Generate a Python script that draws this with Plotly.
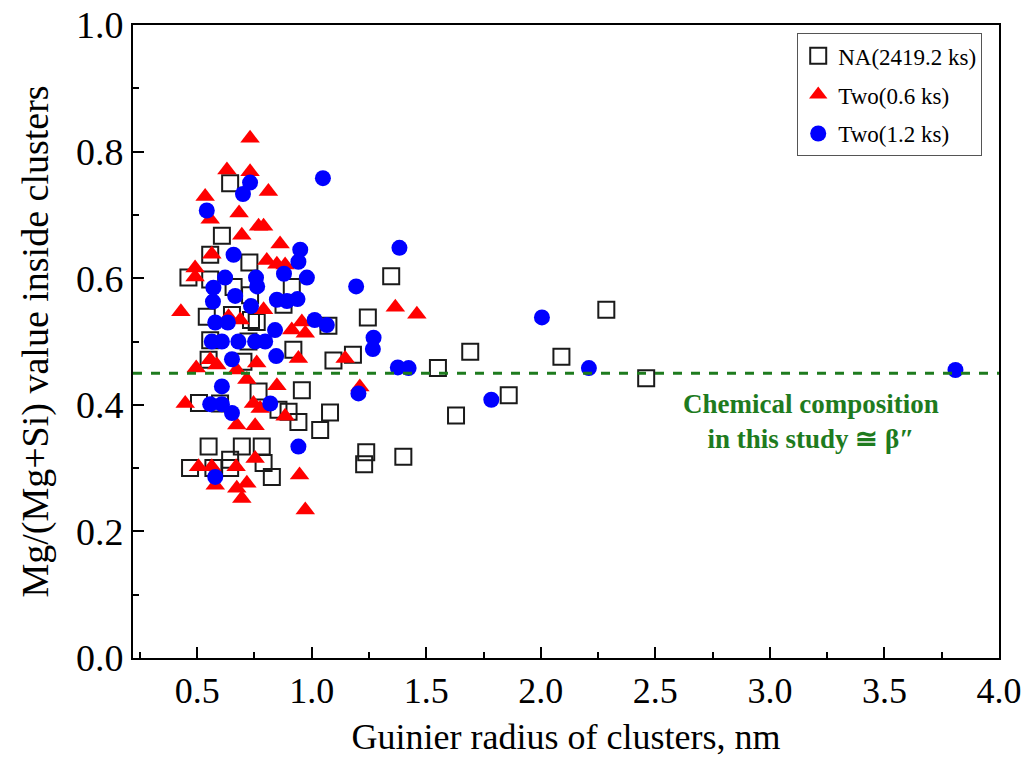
import plotly.graph_objects as go

# ---- data ----
na_x = [0.644, 0.608, 0.557, 0.728, 0.462, 0.557, 0.659, 0.913, 0.731, 0.877,
        0.542, 0.652, 0.735, 0.760, 1.073, 0.557, 0.724, 0.920, 1.095, 0.550,
        0.702, 0.957, 0.768, 1.080, 0.508, 0.600, 0.855, 0.899, 0.942, 1.037,
        0.550, 0.695, 0.782, 0.644, 0.790, 0.469, 0.571, 0.644, 0.826, 1.180,
        1.245, 1.347, 1.551, 1.692, 2.090, 2.286, 2.460, 1.860, 1.630, 1.238,
        1.229, 1.400]
na_y = [0.750, 0.667, 0.637, 0.625, 0.601, 0.598, 0.586, 0.586, 0.573, 0.558,
        0.539, 0.542, 0.534, 0.531, 0.525, 0.502, 0.500, 0.487, 0.470, 0.471,
        0.468, 0.423, 0.421, 0.388, 0.403, 0.402, 0.392, 0.389, 0.373, 0.360,
        0.334, 0.334, 0.334, 0.313, 0.308, 0.300, 0.300, 0.300, 0.286, 0.479,
        0.538, 0.603, 0.458, 0.484, 0.476, 0.550, 0.442, 0.415, 0.383, 0.325,
        0.306, 0.318]

two06_x = [0.731, 0.630, 0.731, 0.811, 0.535, 0.557, 0.683, 0.695, 0.768, 0.790,
           0.862, 0.564, 0.804, 0.848, 0.884, 0.491, 0.491, 0.429, 0.637, 0.688,
           0.790, 0.913, 0.957, 0.972, 0.942, 1.146, 0.557, 0.586, 0.760, 0.496,
           0.673, 0.717, 0.848, 0.448, 0.746, 0.775, 0.884, 0.673, 0.753, 0.753,
           0.506, 0.564, 0.670, 0.579, 0.717, 0.673, 0.695, 0.947, 0.972, 1.365,
           1.459, 1.210]
two06_y = [0.821, 0.771, 0.768, 0.737, 0.729, 0.693, 0.703, 0.668, 0.682, 0.682,
           0.654, 0.638, 0.628, 0.622, 0.621, 0.616, 0.602, 0.547, 0.539, 0.534,
           0.550, 0.518, 0.531, 0.513, 0.473, 0.473, 0.471, 0.463, 0.466, 0.458,
           0.455, 0.440, 0.430, 0.402, 0.402, 0.394, 0.382, 0.368, 0.367, 0.315,
           0.302, 0.302, 0.302, 0.273, 0.276, 0.268, 0.252, 0.289, 0.234, 0.554,
           0.543, 0.428]

two12_x = [1.049, 0.731, 0.700, 0.542, 0.950, 0.942, 0.659, 0.622, 0.757, 0.879,
           0.979, 0.571, 0.762, 0.666, 0.569, 0.735, 0.848, 0.892, 0.938, 0.579,
           0.634, 0.840, 1.013, 1.066, 0.564, 0.608, 0.680, 0.753, 0.797, 0.845,
           0.652, 0.608, 0.557, 0.608, 0.819, 0.652, 0.942, 0.579, 1.194, 1.270,
           1.267, 1.376, 1.423, 1.383, 1.204, 1.784, 2.005, 2.210, 3.810]
two12_y = [0.758, 0.751, 0.733, 0.707, 0.645, 0.626, 0.637, 0.601, 0.601, 0.607,
           0.601, 0.585, 0.587, 0.572, 0.563, 0.556, 0.566, 0.564, 0.567, 0.530,
           0.530, 0.518, 0.534, 0.526, 0.500, 0.500, 0.500, 0.500, 0.500, 0.477,
           0.472, 0.429, 0.401, 0.401, 0.402, 0.387, 0.334, 0.286, 0.587, 0.506,
           0.488, 0.459, 0.458, 0.648, 0.418, 0.408, 0.538, 0.458, 0.455]

beta_ratio = 0.45
x_ticks = [0.5, 1.0, 1.5, 2.0, 2.5, 3.0, 3.5, 4.0]
y_ticks = [0.0, 0.2, 0.4, 0.6, 0.8, 1.0]

FONT = "Liberation Serif, Times New Roman, serif"
GREEN = "#1e7b1e"

fig = go.Figure()
fig.add_trace(go.Scatter(
    x=na_x, y=na_y, mode="markers", name="NA(2419.2 ks)", legendgroup="a",
    marker=dict(symbol="square-open", size=16, color="#1a1a1a", line=dict(width=2, color="#1a1a1a"))))
fig.add_trace(go.Scatter(
    x=two06_x, y=two06_y, mode="markers", name="Two(0.6 ks)", legendgroup="b",
    marker=dict(symbol="triangle-up", size=17, color="#ff0000", line=dict(width=0))))
fig.add_trace(go.Scatter(
    x=two12_x, y=two12_y, mode="markers", name="Two(1.2 ks)", legendgroup="c",
    marker=dict(symbol="circle", size=16, color="#0000ff", line=dict(width=0))))

fig.add_shape(type="line", xref="paper", x0=0, x1=1, yref="y", y0=beta_ratio, y1=beta_ratio,
              line=dict(color=GREEN, width=3, dash="dash"), layer="above")

fig.add_annotation(x=3.18, y=0.373, xref="x", yref="y", showarrow=False,
                   text="<b>Chemical composition<br>in this study \u2245 \u03b2\u2033</b>",
                   font=dict(family=FONT, size=27, color=GREEN), align="center")

fig.update_layout(
    width=1030, height=765,
    margin=dict(l=133, r=31, t=25, b=107, autoexpand=False),
    paper_bgcolor="white", plot_bgcolor="white",
    font=dict(family=FONT, color="black"),
    showlegend=True,
    legend=dict(x=0.767, y=0.987, xanchor="left", yanchor="top",
                bordercolor="#555555", borderwidth=1, bgcolor="white",
                font=dict(family=FONT, size=23), traceorder="grouped",
                tracegroupgap=6, itemwidth=30),
    xaxis=dict(range=[0.22, 4.0], tickvals=x_ticks, ticktext=[f"{v:.1f}" for v in x_ticks],
               automargin=False,
               ticks="inside", ticklen=11, tickwidth=1.5, tickcolor="black",
               minor=dict(ticks="inside", ticklen=6, dtick=0.25, tick0=0.25, tickcolor="black", tickwidth=1.5),
               showline=True, linecolor="black", linewidth=2, mirror=True, showgrid=False, zeroline=False,
               tickfont=dict(family=FONT, size=36),
               title=dict(text="Guinier radius of clusters, nm", font=dict(family=FONT, size=36), standoff=14)),
    yaxis=dict(range=[0, 1.0], tickvals=y_ticks, ticktext=[f"{v:.1f}" for v in y_ticks],
               automargin=False,
               ticks="inside", ticklen=11, tickwidth=1.5, tickcolor="black",
               minor=dict(ticks="inside", ticklen=6, dtick=0.1, tick0=0, tickcolor="black", tickwidth=1.5),
               showline=True, linecolor="black", linewidth=2, mirror=True, showgrid=False, zeroline=False,
               tickfont=dict(family=FONT, size=38),
               title=dict(text="Mg/(Mg+Si) value inside clusters", font=dict(family=FONT, size=38), standoff=16)),
)

fig.write_html("out.html", config={"displayModeBar": False},
               post_script="document.body.style.margin='0';document.body.style.overflow='hidden';")
